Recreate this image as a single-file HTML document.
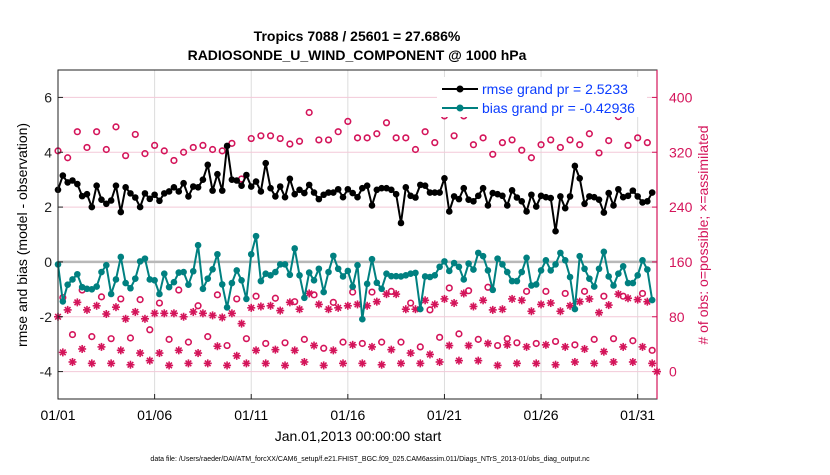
<!DOCTYPE html>
<html><head><meta charset="utf-8"><style>
body{margin:0;background:#fff;}
svg text{font-family:"Liberation Sans",Arial,sans-serif;}
</style></head><body>
<svg id="chart" width="830" height="470" xmlns="http://www.w3.org/2000/svg">
<rect width="830" height="470" fill="#fff"/>
<g id="grid"></g>
<g id="obs"></g>
<g id="lines"></g>
<g id="axes"></g>
<text x="357" y="41" font-size="14" font-weight="bold" text-anchor="middle">Tropics 7088 / 25601 = 27.686%</text>
<text x="357" y="60" font-size="14" font-weight="bold" text-anchor="middle">RADIOSONDE_U_WIND_COMPONENT @ 1000 hPa</text>
<text x="358" y="441" font-size="14" text-anchor="middle">Jan.01,2013 00:00:00 start</text>
<text transform="translate(27,235) rotate(-90)" font-size="14" text-anchor="middle">rmse and bias (model - observation)</text>
<text transform="translate(708,235) rotate(-90)" font-size="14" fill="#d4145a" text-anchor="middle"># of obs: o=possible; ×=assimilated</text>
<text x="370" y="461" font-size="7" text-anchor="middle">data file: /Users/raeder/DAI/ATM_forcXX/CAM6_setup/f.e21.FHIST_BGC.f09_025.CAM6assim.011/Diags_NTrS_2013-01/obs_diag_output.nc</text>
<g>
<rect x="437" y="77" width="210" height="40" fill="#fff"/>
<line x1="442" y1="89" x2="478" y2="89" stroke="#000" stroke-width="2"/><circle cx="460" cy="89" r="3.5" fill="#000"/>
<text x="482" y="94" font-size="14" fill="#0a3cff">rmse grand pr = 2.5233</text>
<line x1="442" y1="108" x2="478" y2="108" stroke="#008080" stroke-width="2"/><circle cx="460" cy="108" r="3.5" fill="#008080"/>
<text x="482" y="113" font-size="14" fill="#0a3cff">bias grand pr = -0.42936</text>
</g>
</svg>
<script>
const rmse=[2.63,3.15,2.9,2.97,2.84,2.4,2.47,2.0,2.78,2.27,2.12,2.24,2.78,1.82,2.72,2.5,2.35,2.0,2.5,2.3,2.45,2.23,2.5,2.57,2.72,2.57,2.87,2.39,2.75,2.72,3.0,3.54,2.6,3.2,2.6,4.23,3.0,2.97,2.78,3.17,2.75,2.93,2.57,3.6,2.69,2.39,2.75,2.36,3.03,2.47,2.63,2.51,2.81,2.53,2.29,2.45,2.53,2.53,2.65,2.36,2.65,2.51,2.36,2.69,2.78,2.06,2.63,2.69,2.69,2.63,2.47,1.42,2.72,2.41,2.35,2.81,2.78,2.53,2.53,2.53,3.05,1.84,2.39,2.29,2.69,2.27,2.21,2.41,2.69,2.06,2.51,2.47,2.41,2.06,2.61,2.35,2.21,1.84,2.45,2.02,2.41,2.36,2.33,1.12,2.39,1.96,2.39,3.5,3.05,2.12,2.39,2.36,2.27,1.8,2.51,2.06,2.65,2.36,2.41,2.6,2.39,2.17,2.21,2.53];
const bias=[-0.09,-1.44,-0.83,-0.64,-0.45,-0.92,-0.98,-1.0,-0.9,-0.37,-0.12,-1.17,-0.64,0.18,-0.77,-0.96,-0.61,0.02,0.12,-0.64,-0.67,-1.17,-0.43,-0.92,-0.74,-0.39,-0.37,-0.83,-0.34,0.61,-0.98,-0.61,-0.27,0.28,-0.82,-1.66,-0.77,-0.31,-0.67,-1.35,0.28,0.94,-0.7,-0.43,-0.49,-0.37,-0.09,-0.09,-0.47,0.49,-0.49,-1.31,-0.39,-0.67,-0.25,-1.1,-0.37,0.22,-0.25,-0.53,-0.33,-0.9,-0.12,-2.09,-0.8,0.1,-0.76,-0.98,-0.43,-0.52,-0.52,-0.53,-0.49,-0.43,-0.4,-1.72,-0.53,-0.55,-0.49,-0.18,0.02,-0.33,-0.04,-0.18,-0.64,-0.06,-0.28,0.33,0.21,-0.31,-1.02,0.12,-0.09,-0.37,-0.7,-0.7,-0.37,0.15,-0.86,-0.82,-0.31,0.06,-0.31,-0.09,0.33,0.06,-0.55,-1.72,0.21,-0.25,-0.61,-0.9,-0.25,0.37,-0.53,-0.86,-0.43,-0.16,-0.77,-0.77,-0.49,0.06,-0.28,-1.39];
const possible=[322,108,312,54,350,119,327,51,350,109,324,48,357,106,315,49,346,105,318,61,330,100,322,47,308,119,320,43,327,96,330,51,324,112,322,38,333,106,281,48,340,110,344,41,344,107,340,42,332,102,336,47,378,112,338,34,338,101,350,43,365,116,341,41,341,116,347,43,363,117,341,43,341,100,324,36,350,90,334,50,373,122,344,55,373,118,331,47,341,123,317,38,334,48,338,42,323,117,312,41,331,117,338,44,327,114,338,39,331,117,347,47,319,110,337,48,372,110,330,45,341,114,334,31];
const assimilated=[80,28,90,14,101,33,90,12,96,36,84,12,94,31,77,10,87,27,77,16,85,27,85,9,85,31,80,12,87,27,85,12,82,37,79,9,85,23,70,12,93,31,95,12,96,32,89,9,101,31,91,14,114,38,98,9,91,31,93,12,96,39,98,12,96,36,102,10,113,32,113,12,91,27,91,12,104,25,98,14,106,38,100,16,114,38,95,16,104,41,90,9,91,39,106,12,104,36,88,12,98,39,100,10,88,36,96,14,102,33,106,12,86,29,97,14,113,36,107,14,105,36,102,12,0];
const leftTicks=[-4,-2,0,2,4,6];
const rightTicks=[0,80,160,240,320,400];
const xTickLabels=["01/01","01/06","01/11","01/16","01/21","01/26","01/31"];
const xTickDays=[0,5,10,15,20,25,30];

const X0=58,X1=657,Y0=70,Y1=399;
const xs=d=>X0+(X1-X0)*d/31;
const yL=v=>Y1-(v+5)/12*(Y1-Y0);
const yR=v=>yL(-4)-(v/80)*(yL(-2)-yL(-4))*-1;
const dayOf=i=>i*0.25;
const NS="http://www.w3.org/2000/svg";
function mk(tag,parent,attrs){const e=document.createElementNS(NS,tag);for(const k in attrs)e.setAttribute(k,attrs[k]);parent.appendChild(e);return e;}
const grid=document.getElementById('grid'),obs=document.getElementById('obs'),lines=document.getElementById('lines'),axes=document.getElementById('axes');

xTickDays.forEach((d,k)=>{
 const g=mk('line',grid,{x1:xs(d),x2:xs(d),y1:Y0,y2:Y1,stroke:'#dcdcdc','stroke-width':1});
 
 
 const t=mk('text',axes,{x:xs(d),y:420,'font-size':14,'text-anchor':'middle'});t.textContent=xTickLabels[k];
 
 
 mk('line',axes,{x1:xs(d),x2:xs(d),y1:Y1,y2:Y1-5,stroke:'#222'});
});
rightTicks.forEach(v=>{
 const y=yR(v);
 const g=mk('line',grid,{x1:X0,x2:X1,y1:y,y2:y,stroke:'#f3c9d8','stroke-width':1});
 
 
 const t=mk('text',axes,{x:X1+12,y:y+5,'font-size':14,fill:'#d4145a'});t.textContent=v;
 
 
 mk('line',axes,{x1:X1,x2:X1-5,y1:y,y2:y,stroke:'#d4145a'});
});
leftTicks.forEach(v=>{
 const y=yL(v);
 const t=mk('text',axes,{x:X0-6,y:y+5,'font-size':14,'text-anchor':'end',fill:'#222'});t.textContent=v;
 
 
 mk('line',axes,{x1:X0,x2:X0+5,y1:y,y2:y,stroke:'#222'});
});
const zl=mk('line',grid,{x1:X0,x2:X1,y1:yL(0),y2:yL(0),stroke:'#b8b8b8','stroke-width':2.5});



possible.forEach((v,i)=>{
 const c=mk('circle',obs,{cx:xs(dayOf(i)),cy:yR(v),r:2.8,fill:'none',stroke:'#d4145a','stroke-width':1.6});
 
 
});
assimilated.forEach((v,i)=>{
 const cx=xs(dayOf(i)),cy=yR(v),r=4;
 const g=mk('g',obs,{stroke:'#d4145a','stroke-width':1.6});
 
 
 for(let a=0;a<4;a++){const t=a*Math.PI/4;mk('line',g,{x1:cx-r*Math.cos(t),y1:cy-r*Math.sin(t),x2:cx+r*Math.cos(t),y2:cy+r*Math.sin(t)});}
});
function series(arr,color,name){
 const pts=arr.map((v,i)=>xs(dayOf(i))+','+yL(v)).join(' ');
 const p=mk('polyline',lines,{points:pts,fill:'none',stroke:color,'stroke-width':2});
 
 
 arr.forEach((v,i)=>{const c=mk('circle',lines,{cx:xs(dayOf(i)),cy:yL(v),r:3.3,fill:color});
  
  });
}
series(rmse,'#000','rmse');
series(bias,'#008080','bias');
const fr=mk('rect',axes,{x:X0,y:Y0,width:X1-X0,height:Y1-Y0,fill:'none',stroke:'#222','stroke-width':1});


const ra=mk('line',axes,{x1:X1,x2:X1,y1:Y0,y2:Y1,stroke:'#d4145a','stroke-width':1.2});


</script>
</body></html>
